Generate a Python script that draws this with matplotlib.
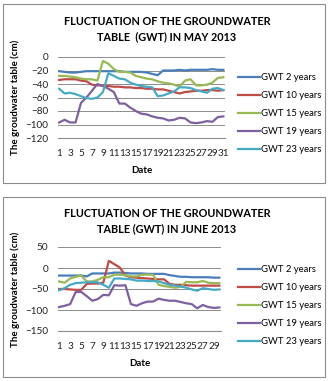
import matplotlib
matplotlib.use("Agg")
import matplotlib.pyplot as plt
from matplotlib.patches import Rectangle

plt.rcParams['font.family'] = ['Lato', 'DejaVu Sans']

# 系列名と色
series_names = ["GWT 2 years", "GWT 10 years", "GWT 15 years", "GWT 19 years", "GWT 23 years"]
colors = ["#4A7EBB", "#BE4B48", "#98B954", "#7D60A0", "#46AAC5"]

# May 2013 (31日)
may_days = list(range(1, 32))
may_2 = [-21, -22, -23, -23, -22, -21, -21, -21, -21, -21, -21, -21, -22, -22, -22, -22,
         -23, -25, -27, -20, -20, -20, -19, -20, -19, -19, -19, -19, -18, -19, -19]
may_10 = [-34, -33, -33, -33, -35, -36, -41, -42, -42, -43, -44, -44, -45, -45, -46, -46,
          -47, -47, -48, -48, -50, -52, -54, -52, -51, -50, -50, -49, -49, -50, -49]
may_15 = [-28, -28, -29, -30, -32, -33, -33, -35, -6, -10, -18, -22, -22, -23, -28, -30,
          -32, -33, -36, -38, -39, -41, -44, -35, -33, -42, -42, -41, -38, -31, -30]
may_19 = [-97, -93, -97, -97, -68, -60, -50, -40, -43, -47, -52, -69, -69, -75, -80, -84,
          -85, -88, -90, -91, -94, -93, -90, -91, -97, -98, -97, -95, -96, -89, -88]
may_23 = [-47, -54, -53, -55, -58, -61, -62, -60, -52, -24, -28, -32, -33, -38, -41, -43,
          -44, -45, -58, -57, -54, -51, -45, -45, -46, -49, -51, -53, -47, -46, -49]

# June 2013 (30日)
jun_days = list(range(1, 31))
jun_2 = [-18, -18, -18, -18, -18, -20, -13, -13, -13, -13, -11, -11, -12, -13, -13, -13,
         -14, -14, -14, -14, -17, -19, -21, -21, -22, -22, -22, -22, -23, -23]
jun_10 = [-50, -50, -51, -52, -52, -38, -37, -37, -35, 17, 9, 1, -18, -22, -23, -24,
          -25, -26, -27, -27, -38, -40, -40, -41, -42, -42, -42, -42, -42, -42]
jun_15 = [-32, -35, -25, -21, -18, -32, -32, -28, -22, -22, -16, -16, -17, -20, -20, -16,
          -16, -16, -40, -43, -45, -47, -45, -33, -34, -34, -31, -35, -36, -36]
jun_19 = [-93, -90, -86, -57, -57, -67, -78, -74, -64, -65, -41, -42, -41, -86, -90, -84,
          -80, -80, -73, -76, -78, -78, -81, -84, -86, -96, -88, -93, -95, -94]
jun_23 = [-53, -48, -40, -36, -35, -34, -34, -34, -40, -47, -25, -25, -26, -27, -30, -30,
          -31, -31, -32, -36, -40, -42, -44, -47, -51, -54, -48, -50, -52, -51]

may_data = [may_2, may_10, may_15, may_19, may_23]
jun_data = [jun_2, jun_10, jun_15, jun_19, jun_23]

W, H = 332, 381
fig = plt.figure(figsize=(W / 100, H / 100), dpi=100)


def fx(px):
    return px / W


def fy(py):
    return 1 - py / H


def draw_panel(box, axes_rect, title, t_y, days, data, ylim, yticks, legend_top):
    x0, y0, x1, y1 = box
    fig.patches.append(Rectangle((fx(x0), fy(y1)), fx(x1 - x0), (y1 - y0) / H,
                                 transform=fig.transFigure, fill=False,
                                 edgecolor="#8c8c8c", linewidth=0.8))
    fig.text(fx(167), fy(t_y), title, ha="center", va="center", fontsize=7.8,
             fontweight="bold", linespacing=1.4)

    ax = fig.add_axes(axes_rect)
    for vals, name, c in zip(data, series_names, colors):
        ax.plot(days, vals, color=c, linewidth=1.6, label=name)
    ax.set_ylim(*ylim)
    ax.set_yticks(yticks)
    ax.set_xlim(0.8, days[-1] + 0.3)
    ax.set_xticks(days[::2])
    ax.set_xticklabels([str(d) for d in days[::2]])
    ax.yaxis.grid(True, color="#8c8c8c", linewidth=0.7)
    ax.set_axisbelow(True)
    for s in ["top", "right", "left"]:
        ax.spines[s].set_visible(False)
    ax.spines["bottom"].set_color("#8c8c8c")
    ax.tick_params(axis="both", length=0, labelsize=7.2, pad=7, colors="#222222")
    ax.tick_params(axis="x", pad=8)
    ax.set_xlabel("Date", fontsize=7.0, fontweight="bold", labelpad=6)
    ax.set_ylabel("The groudwater table (cm)", fontsize=7.0, fontweight="bold", labelpad=4)
    ax.legend(loc="upper left", bbox_to_anchor=(fx(238), fy(legend_top)),
              bbox_transform=fig.transFigure, frameon=False, fontsize=6.8,
              handlelength=2.3, handletextpad=0.1, labelspacing=0.95,
              borderaxespad=0, borderpad=0)
    return ax


draw_panel((3, 4, 325, 183),
           [fx(58), fy(138), fx(225) - fx(58), (138 - 57) / H],
           "FLUCTUATION OF THE GROUNDWATER\nTABLE  (GWT) IN MAY 2013", 29,
           may_days, may_data, (-120, 0), list(range(-120, 1, 20)), 73)

draw_panel((3, 197, 325, 377),
           [fx(58), fy(331), fx(221) - fx(58), (331 - 247) / H],
           "FLUCTUATION OF THE GROUNDWATER\nTABLE (GWT) IN JUNE 2013", 221,
           jun_days, jun_data, (-150, 50), list(range(-150, 51, 50)), 265)

fig.savefig("out.png", dpi=100)
